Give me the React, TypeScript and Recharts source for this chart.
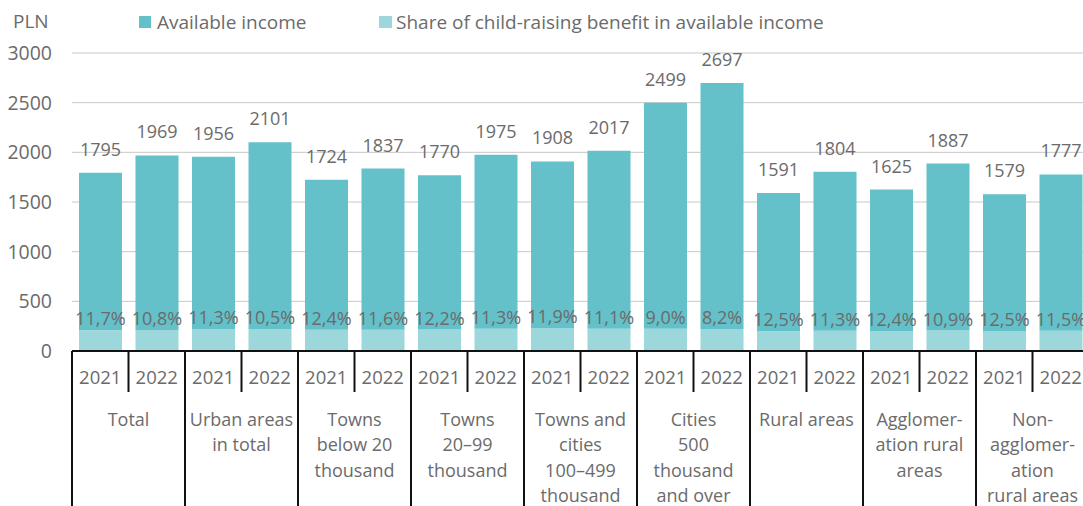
import { BarChart, Bar, XAxis, YAxis, CartesianGrid, LabelList } from 'recharts'

const categories = [
  'Total',
  'Urban areas\nin total',
  'Towns\nbelow 20\nthousand',
  'Towns\n20–99\nthousand',
  'Towns and\ncities\n100–499\nthousand',
  'Cities\n500\nthousand\nand over',
  'Rural areas',
  'Agglomer-\nation rural\nareas',
  'Non-\nagglomer-\nation\nrural areas',
]
const years = ['2021', '2022']
const income2021 = [1795, 1956, 1724, 1770, 1908, 2499, 1591, 1625, 1579]
const income2022 = [1969, 2101, 1837, 1975, 2017, 2697, 1804, 1887, 1777]
const share2021 = [11.7, 11.3, 12.4, 12.2, 11.9, 9.0, 12.5, 12.4, 12.5]
const share2022 = [10.8, 10.5, 11.6, 11.3, 11.1, 8.2, 11.3, 10.9, 11.5]
const yTicks = [0, 500, 1000, 1500, 2000, 2500, 3000]

const DARK = '#64c1c9'
const LIGHT = '#9cd8db'
const TEXT = '#6b6b6b'
const FONT = '"Open Sans", sans-serif'

const data = categories.flatMap((cat, c) =>
  years.map((year, y) => {
    const income = y === 0 ? income2021[c] : income2022[c]
    const share = y === 0 ? share2021[c] : share2022[c]
    const benefit = (income * share) / 100
    return { key: `${c}-${year}`, cat, year, yi: y, income, share, benefit, rest: income - benefit }
  })
)

const CHART_W = 1095
const Y_W = 72
const RIGHT = 6
const BAND = (CHART_W - Y_W - RIGHT) / data.length

const XTick = ({ x, y, index }: any) => {
  const d = data[index]
  if (!d) return null
  const left = x - BAND / 2
  const first = d.yi === 0
  const lines = d.cat.split('\n')
  return (
    <g>
      <text x={x} y={y + 33} textAnchor="middle" fill={TEXT} fontSize={18.5} fontFamily={FONT}>
        {d.year}
      </text>
      <line x1={left} x2={left} y1={y} y2={first ? y + 160 : y + 41} stroke="#111" strokeWidth={2} />
      {first && (
        <text x={x + BAND / 2} y={y + 74.5} textAnchor="middle" fill={TEXT} fontSize={18} fontFamily={FONT}>
          {lines.map((l: string, i: number) => (
            <tspan key={i} x={x + BAND / 2} dy={i === 0 ? 0 : 25.5}>{l}</tspan>
          ))}
        </text>
      )}
    </g>
  )
}

export default function App() {
  return (
    <div style={{ position: 'fixed', left: 0, top: 0, width: 1083, height: 506, overflow: 'hidden', background: '#fff', fontFamily: FONT }}>
      <div style={{ position: 'absolute', left: 13, top: 9, fontSize: 19, lineHeight: '24px', color: TEXT }}>PLN</div>
      <div style={{ position: 'absolute', left: 139, top: 10, fontSize: 19, lineHeight: '24px', color: TEXT, display: 'flex', alignItems: 'center' }}>
        <span style={{ width: 12, height: 12, background: DARK, display: 'inline-block', marginRight: 6 }} />
        <span>Available income</span>
      </div>
      <div style={{ position: 'absolute', left: 379, top: 10, fontSize: 19, lineHeight: '24px', color: TEXT, display: 'flex', alignItems: 'center' }}>
        <span style={{ width: 13, height: 12, background: LIGHT, display: 'inline-block', marginRight: 4 }} />
        <span>Share of child-raising benefit in available income</span>
      </div>
      <BarChart
        width={CHART_W}
        height={506}
        data={data}
        margin={{ top: 53, right: RIGHT, left: 0, bottom: 0 }}
        barSize={43}
      >
        <CartesianGrid horizontal vertical={false} stroke="#c8c8c8" />
        <YAxis
          width={Y_W}
          domain={[0, 3000]}
          ticks={yTicks}
          axisLine={false}
          tickLine={false}
          tickSize={0}
          tickMargin={20}
          tick={{ fontSize: 19.5, fill: TEXT, fontFamily: FONT }}
        />
        <XAxis
          dataKey="key"
          height={155}
          axisLine={{ stroke: '#111', strokeWidth: 2 }}
          tickLine={false}
          tickSize={0}
          tickMargin={0}
          interval={0}
          tick={<XTick />}
        />
        <Bar dataKey="benefit" stackId="a" fill={LIGHT} isAnimationActive={false}>
          <LabelList
            dataKey="share"
            position="top"
            offset={5}
            fill={TEXT}
            fontSize={18}
            fontFamily={FONT}
            formatter={(v: any) => `${Number(v).toFixed(1).replace('.', ',')}%`}
          />
        </Bar>
        <Bar dataKey="rest" stackId="a" fill={DARK} isAnimationActive={false}>
          <LabelList dataKey="income" position="top" offset={17} fill={TEXT} fontSize={18} fontFamily={FONT} />
        </Bar>
      </BarChart>
    </div>
  )
}
